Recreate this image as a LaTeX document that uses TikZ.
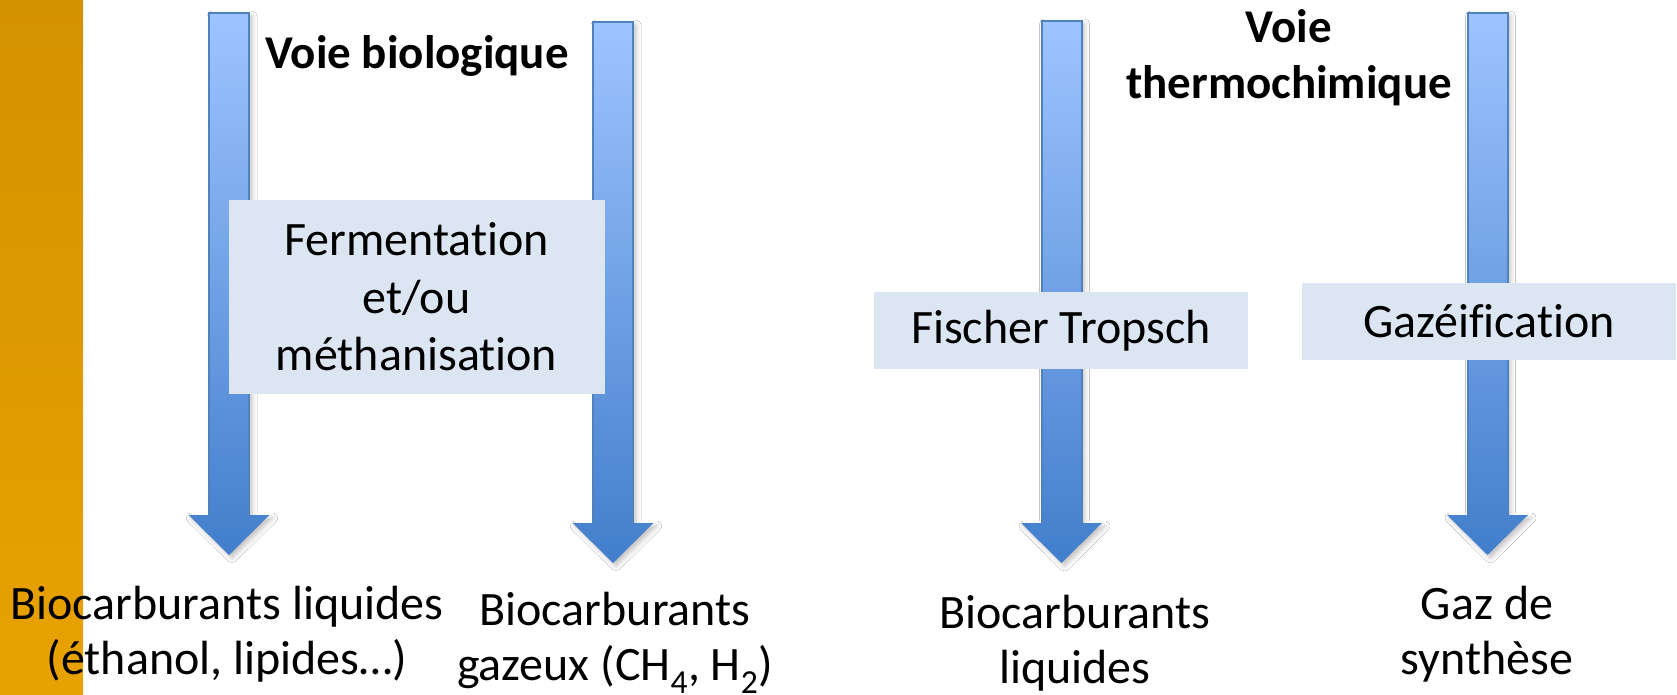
\documentclass[tikz,border=0pt]{standalone}
\usepackage{fontspec}
\setmainfont{Carlito}[Ligatures={NoCommon}]
\usetikzlibrary{calc,shadows.blur}

\definecolor{stripTop}{HTML}{D39200}
\definecolor{stripBot}{HTML}{E8A200}
\definecolor{shaftTop}{HTML}{9EC4FF}
\definecolor{shaftBot}{HTML}{427ECC}
\definecolor{shaftEdge}{HTML}{4F81BD}
\definecolor{boxFill}{HTML}{DCE6F2}

\tikzset{
  stepbox/.style={fill=boxFill, inner sep=0pt, align=center,
    font=\fontsize{48}{57.5}\selectfont},
  caption/.style={inner sep=0pt, align=center,
    font=\fontsize{48}{55}\selectfont},
  heading/.style={inner sep=0pt, align=center,
    font=\fontsize{47}{56}\selectfont\bfseries},
  arrowbody/.style={top color=shaftTop, bottom color=shaftBot,
    blur shadow={shadow xshift=3pt, shadow yshift=-3pt,
      shadow blur radius=5pt, shadow opacity=25}},
  arrowedge/.style={draw=shaftEdge, line width=2pt, line join=miter},
}

% block arrow running from a top coordinate down to a tip coordinate
\newcommand\blockarrow[2]{%
  \path[arrowbody] ($(#1)+(-20,0)$) -- ($(#1)+(20,0)$)
    -- ($(#2)+(20,-40)$) -- ($(#2)+(40.5,-40)$) -- (#2)
    -- ($(#2)+(-40.5,-40)$) -- ($(#2)+(-20,-40)$) -- cycle;
  \draw[arrowedge] ($(#2)+(-20,-40)$) -- ($(#1)+(-20,0)$)
    -- ($(#1)+(20,0)$) -- ($(#2)+(20,-40)$);
}

\begin{document}
\begin{tikzpicture}[x=1pt, y=-1pt]
  \useasboundingbox (0,0) rectangle (1677,695);
  \fill[white] (0,0) rectangle (1677,695);

  % side band
  \shade[top color=stripTop, bottom color=stripBot] (0,0) rectangle (83,695);

  % arrow ends
  \coordinate (liqTop)  at (229,13);
  \coordinate (liqTip)  at (229,555);
  \coordinate (gasTop)  at (613,22);
  \coordinate (gasTip)  at (613,563);
  \coordinate (ftTop)   at (1061.5,21);
  \coordinate (ftTip)   at (1061.5,563);
  \coordinate (synTop)  at (1487.5,13);
  \coordinate (synTip)  at (1487.5,555);

  \blockarrow{liqTop}{liqTip}
  \blockarrow{gasTop}{gasTip}
  \blockarrow{ftTop}{ftTip}
  \blockarrow{synTop}{synTip}

  % process boxes
  \node[stepbox, minimum width=376pt, minimum height=194pt] (ferm) at (416.5,297)
    {Fermentation\\et/ou\\méthanisation};
  \node[stepbox, minimum width=374pt, minimum height=77pt] (ft) at (1061,330.5)
    {Fischer Tropsch};
  \node[stepbox, minimum width=374pt, minimum height=77pt] (gaz) at (1489,321.5)
    {Gazéification};

  % headings
  \node[heading] (bio) at (417,56) {Voie biologique};
  \node[heading] (thermo) at (1289,58) {Voie\\thermochimique};

  % products
  \node[caption] (pliq) at (227,634)
    {Biocarburants liquides\\(éthanol, lipides…)};
  \node[caption] (pgas) at (615,643)
    {Biocarburants\\gazeux (CH\textsubscript{4}, H\textsubscript{2})};
  \node[caption] (pft) at (1075,643) {Biocarburants\\liquides};
  \node[caption] (psyn) at (1487,634) {Gaz de\\synthèse};
\end{tikzpicture}
\end{document}
